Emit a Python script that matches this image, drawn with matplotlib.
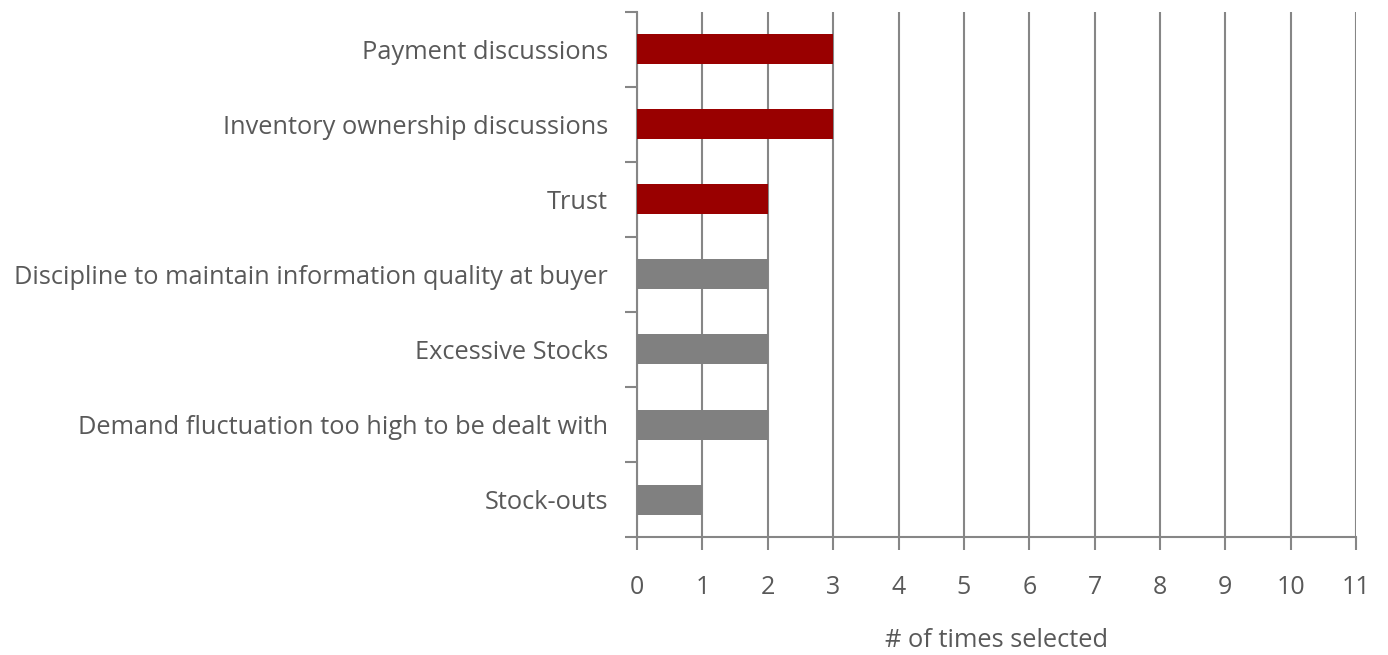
import numpy as np
import matplotlib.pyplot as plt
from matplotlib.ticker import FixedLocator

# reasons, top to bottom
reasons = ["Payment discussions",
           "Inventory ownership discussions",
           "Trust",
           "Discipline to maintain information quality at buyer",
           "Excessive Stocks",
           "Demand fluctuation too high to be dealt with",
           "Stock-outs"]
counts = [3, 3, 2, 2, 2, 2, 1]
highlight = [True, True, True, False, False, False, False]

plt.rcParams['font.family'] = ['Open Sans', 'DejaVu Sans']
txt = '#595959'
line = '#868686'

fig = plt.figure(figsize=(13.88, 6.55), dpi=100)
ax = fig.add_axes([0.459, 0.180, 0.518, 0.802])

pos = np.arange(len(reasons))[::-1]
colors = ['#990000' if h else '#808080' for h in highlight]
ax.barh(pos, counts, height=0.4, color=colors, zorder=3)

ax.set_xlim(0, 11)
ax.set_ylim(-0.5, len(reasons) - 0.5)
ax.set_xticks(range(0, 12))
ax.set_yticks(pos)
ax.set_yticklabels(reasons)
ax.yaxis.set_minor_locator(FixedLocator(np.arange(-0.5, len(reasons), 1.0)))

ax.grid(axis='x', color=line, linewidth=1.5, zorder=0)
for s in ['top', 'right']:
    ax.spines[s].set_visible(False)
for s in ['left', 'bottom']:
    ax.spines[s].set_color(line)
    ax.spines[s].set_linewidth(1.5)

ax.tick_params(axis='y', which='major', length=0, pad=21, labelsize=18.3, labelcolor=txt)
ax.tick_params(axis='y', which='minor', length=9, width=1.5, color=line)
ax.tick_params(axis='x', length=9, width=1.5, color=line, pad=18.5, labelsize=18, labelcolor=txt)

ax.set_xlabel("# of times selected", fontsize=18.3, color=txt, labelpad=20)

fig.savefig('out.png', dpi=100)
